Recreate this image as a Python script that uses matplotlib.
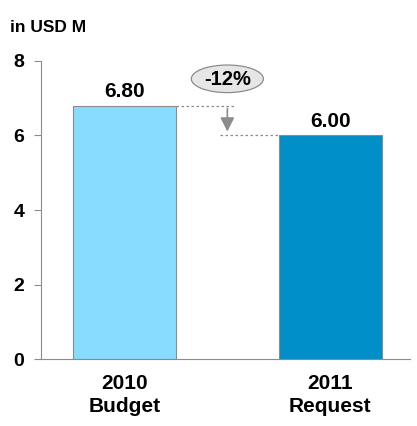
"""budget vs request bar chart"""

# imports
import matplotlib
matplotlib.use('Agg')
import matplotlib.pyplot as plt
from matplotlib.patches import Ellipse

# data
categories = ['2010\nBudget', '2011\nRequest']
values = [6.80, 6.00]
value_labels = ['6.80', '6.00']
change_label = '-12%'
y_ticks = [0, 2, 4, 6, 8]

# settings
plt.rcParams['font.family'] = ['Liberation Sans', 'DejaVu Sans']
colors = ['#87dcff', '#008fc8']
grey = '#8c8c8c'

fig = plt.figure(figsize=(4.17, 4.26), dpi=100)
ax = fig.add_axes([0.098, 0.157, 0.885, 0.70])

# bars
x = list(range(len(categories)))
ax.bar(x, values, width=0.5, color=colors, edgecolor=grey, linewidth=0.8, zorder=2)

# value labels
for i, v in enumerate(values):
    ax.text(i, v + 0.22, value_labels[i], ha='center', va='baseline',
            fontsize=15, fontweight='bold')

# change annotation
mid = (x[0] + x[1]) / 2
ax.plot([x[0] + 0.25, mid + 0.035], [values[0], values[0]], ls=(0, (2, 2)), color=grey, lw=0.9, zorder=1)
ax.plot([mid - 0.035, x[1] - 0.25], [values[1], values[1]], ls=(0, (2, 2)), color=grey, lw=0.9, zorder=1)
ax.annotate('', xy=(mid, values[1] + 0.03), xytext=(mid, values[0]),
            arrowprops=dict(arrowstyle='-|>,head_length=0.6,head_width=0.3', color=grey, lw=1.2, mutation_scale=14))
ax.add_patch(Ellipse((mid, 7.52), 0.35, 0.74, facecolor='#e6e6e6', edgecolor=grey, lw=0.9, zorder=3))
ax.text(mid, 7.50, change_label, ha='center', va='center', fontsize=14.5, fontweight='bold', zorder=4)

# axes
ax.set_xlim(-0.405, 1.386)
ax.set_ylim(0, 8)
ax.set_yticks(y_ticks)
ax.set_yticklabels([str(t) for t in y_ticks], fontsize=14, fontweight='bold')
ax.set_xticks(x)
ax.set_xticklabels(categories, fontsize=15, fontweight='bold', linespacing=1.25)
ax.tick_params(axis='x', length=0, pad=11)
ax.tick_params(axis='y', length=5, color=grey, pad=7)
for side in ['top', 'right']:
    ax.spines[side].set_visible(False)
for side in ['left', 'bottom']:
    ax.spines[side].set_color(grey)
    ax.spines[side].set_linewidth(0.8)

fig.text(0.024, 0.936, 'in USD M', fontsize=12.5, fontweight='bold', va='center')

plt.savefig('out.png', dpi=100)
